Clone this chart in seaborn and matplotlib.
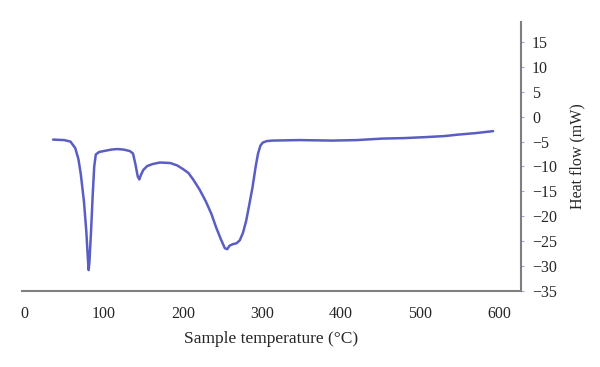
import numpy as np
import pandas as pd
import seaborn as sns
from matplotlib import pyplot as plt

# DSC curve
temperature = [36, 50, 58, 64, 68, 71, 75, 78, 80, 81, 82, 84, 86, 88, 90, 94,
               100, 110, 117, 125, 133, 137, 140, 143, 145, 147, 150, 155, 162,
               171, 184, 193, 200, 207, 213, 221, 229, 236, 242, 248, 253, 256,
               259, 263, 268, 272, 276, 280, 284, 288, 292, 295, 298, 301, 306,
               313, 347, 389, 420, 452, 480, 507, 530, 548, 570, 592]
heat_flow = [-4.6, -4.7, -5.0, -6.3, -8.5, -11.5, -17.0, -23.0, -28.5, -30.8,
             -29.0, -23.0, -16.0, -10.0, -7.6, -7.1, -6.9, -6.6, -6.5, -6.6,
             -6.9, -7.4, -9.5, -12.0, -12.6, -11.7, -10.7, -9.9, -9.5, -9.2,
             -9.3, -9.8, -10.5, -11.3, -12.6, -14.6, -17.0, -19.5, -22.2,
             -24.6, -26.4, -26.6, -25.9, -25.6, -25.4, -24.8, -23.3, -20.9,
             -17.6, -14.2, -10.0, -7.4, -5.8, -5.2, -4.9, -4.8, -4.7, -4.8,
             -4.7, -4.4, -4.3, -4.1, -3.9, -3.6, -3.3, -2.9]

x_ticks = [0, 100, 200, 300, 400, 500, 600]
y_ticks = [15, 10, 5, 0, -5, -10, -15, -20, -25, -30, -35]


def main():
    sns.set_style("white")
    plt.rcParams['font.family'] = ['Liberation Serif', 'DejaVu Serif']

    df = pd.DataFrame({"temp": temperature, "flow": heat_flow})

    fig = plt.figure(figsize=(6, 3.67), dpi=100)
    ax = fig.add_axes([0.037, 0.207, 0.831, 0.733])
    sns.lineplot(data=df, x="temp", y="flow", ax=ax, color="#5a5ec4",
                 linewidth=1.8)

    ax.set_xlim(-3, 627)
    ax.set_ylim(-35, 19)
    ax.set_xticks(x_ticks)
    ax.set_yticks(y_ticks)
    ax.set_yticklabels([str(v).replace("-", "\u2212") for v in y_ticks])

    # right-hand y axis, no left/top frame
    ax.spines["left"].set_visible(False)
    ax.spines["top"].set_visible(False)
    for side in ("right", "bottom"):
        ax.spines[side].set_color("#7f7f7f")
        ax.spines[side].set_linewidth(1.5)
    ax.yaxis.tick_right()
    ax.yaxis.set_label_position("right")
    ax.tick_params(axis="y", direction="out", length=2, color="#9fa3dd",
                   labelsize=11.5, pad=6)
    ax.tick_params(axis="x", direction="in", length=2, color="#cccccc",
                   labelsize=11.5, pad=11)

    ax.set_xlabel("Sample temperature (\u00b0C)", fontsize=12.5, labelpad=6)
    ax.set_ylabel("Heat flow (mW)", fontsize=11.5, labelpad=9)

    fig.savefig("out.png", dpi=100)


if __name__ == '__main__':
    main()
